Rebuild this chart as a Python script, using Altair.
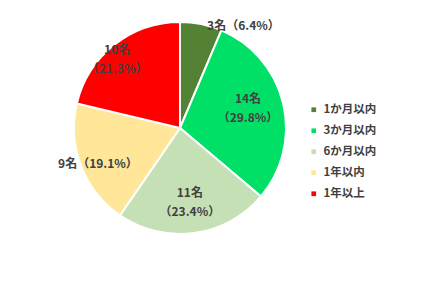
import altair as alt
import pandas as pd
import math

categories = ["1か月以内", "3か月以内", "6か月以内", "1年以内", "1年以上"]
counts = [3, 14, 11, 9, 10]
percents = ["6.4%", "29.8%", "23.4%", "19.1%", "21.3%"]
colors = ["#548235", "#00E066", "#C5E0B4", "#FFE699", "#FF0000"]

df = pd.DataFrame({
    "cat": categories,
    "n": counts,
    "pct": percents,
    "idx": list(range(len(categories))),
})
total = sum(counts)

font = "Noto Sans CJK JP"
txt_color = "#404040"
cx, cy = 180, 128

pie = alt.Chart(df).mark_arc(outerRadius=106, stroke="white", strokeWidth=2).encode(
    theta=alt.Theta("n:Q", stack=True),
    order=alt.Order("idx:Q"),
    x=alt.value(cx),
    y=alt.value(cy),
    color=alt.Color(
        "cat:N",
        scale=alt.Scale(domain=categories, range=colors),
        sort=categories,
        legend=alt.Legend(
            title=None,
            orient="none",
            legendX=308,
            legendY=104,
            symbolType="square",
            symbolSize=22,
            symbolStrokeWidth=0,
            labelFont=font,
            labelFontSize=11.5,
            labelFontWeight="bold",
            labelColor=txt_color,
            rowPadding=8,
            labelOffset=4,
        ),
    ),
)

label_common = dict(font=font, fontSize=12, fontWeight="bold", color=txt_color,
                    lineBreak="\n", lineHeight=19, baseline="middle")

lab_base = alt.Chart(df).transform_window(
    cum="sum(n)", sort=[alt.SortField("idx")], frame=[None, 0]
).transform_calculate(
    mid="datum.cum - datum.n / 2",
    lab="datum.idx == 0 || datum.idx == 3 ? datum.n + '名（' + datum.pct + '）' : datum.n + '名\\n（' + datum.pct + '）'",
).encode(
    theta=alt.Theta("mid:Q", stack=None, scale=alt.Scale(domain=[0, total], range=[0, 2 * math.pi])),
    x=alt.value(cx),
    y=alt.value(cy),
    text=alt.Text("lab:N"),
)

# (index, radius, align, dx, dy)
label_place = [
    (0, 106, "left", 6, 2),
    (1, 74, "center", -4, -12),
    (2, 74, "center", 0, -8),
    (3, 74, "center", -13, 9),
    (4, 74, "center", -17, -20),
]

layers = [pie]
for i, r, al, dx, dy in label_place:
    layers.append(
        lab_base.transform_filter(f"datum.idx == {i}").mark_text(
            radius=r, align=al, dx=dx, dy=dy, **label_common
        )
    )

chart = alt.layer(*layers).properties(
    width=423,
    height=286,
    padding=0,
    autosize=alt.AutoSizeParams(type="none"),
    background="white",
).configure_view(stroke=None)

chart.save("out.html", embed_options={"renderer": "svg", "actions": False})
